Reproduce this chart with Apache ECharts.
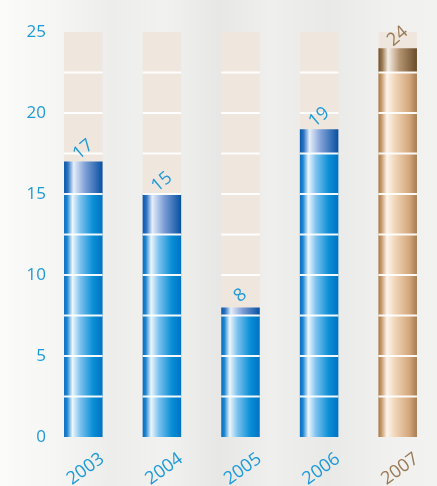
<!DOCTYPE html>
<html>
<head>
<meta charset="utf-8">
<script src="https://cdn.jsdelivr.net/npm/echarts@6/dist/echarts.min.js"></script>
<style>
html,body{margin:0;padding:0;}
#chart{width:437px;height:486px;}
</style>
</head>
<body>
<div id="chart"></div>
<script>
const categories = ['2003', '2004', '2005', '2006', '2007'];
const values = [17, 15, 8, 19, 24];
const highlighted = [false, false, false, false, true];
const yMin = 0, yMax = 25, yInterval = 5;
const segmentStep = 2.5;

const blue = '#1e9ad8';
const brown = '#9a7a56';
const G = echarts.graphic.LinearGradient;

function bodyFill(hl) {
  return hl
    ? new G(0, 0, 1, 0, [
        {offset: 0, color: '#a57a4c'}, {offset: 0.08, color: '#c89a6c'},
        {offset: 0.22, color: '#fdf5ec'}, {offset: 0.45, color: '#efd2b4'},
        {offset: 0.8, color: '#d4a77c'}, {offset: 1, color: '#a67c52'}])
    : new G(0, 0, 1, 0, [
        {offset: 0, color: '#0a6cc0'}, {offset: 0.08, color: '#1d86d0'},
        {offset: 0.22, color: '#eef6fd'}, {offset: 0.42, color: '#7cc2ee'},
        {offset: 0.75, color: '#0a8fd6'}, {offset: 1, color: '#0072c4'}]);
}
function capFill(hl) {
  return hl
    ? new G(0, 0, 1, 0, [
        {offset: 0, color: '#6f5230'}, {offset: 0.1, color: '#9c7a52'},
        {offset: 0.25, color: '#f6efe6'}, {offset: 0.55, color: '#b39370'},
        {offset: 1, color: '#6a4c2a'}])
    : new G(0, 0, 1, 0, [
        {offset: 0, color: '#0656a8'}, {offset: 0.1, color: '#2e74c2'},
        {offset: 0.25, color: '#e6eefa'}, {offset: 0.55, color: '#7e9fd6'},
        {offset: 1, color: '#0550a2'}]);
}

const chart = echarts.init(document.getElementById('chart'));

function renderItem(params, api) {
  const i = api.value(0);
  const v = api.value(1);
  const hl = highlighted[i];
  const base = api.coord([i, 0]);
  const cx = base[0], y0 = base[1];
  const yTop = api.coord([i, yMax])[1];
  const yv = api.coord([i, v])[1];
  const w = api.size([1, 0])[0] * 0.49;
  const x = cx - w / 2;
  const capBase = Math.floor((v - 1e-6) / segmentStep) * segmentStep;
  const yCap = api.coord([i, capBase])[1];
  const children = [];
  children.push({type: 'rect', shape: {x: x, y: yTop, width: w, height: y0 - yTop},
    style: {fill: '#efe6dd'}});
  children.push({type: 'rect', shape: {x: x, y: yCap, width: w, height: y0 - yCap},
    style: {fill: bodyFill(hl)}});
  children.push({type: 'rect', shape: {x: x, y: yv, width: w, height: yCap - yv},
    style: {fill: capFill(hl)}});
  for (let s = segmentStep; s < yMax - 1e-6; s += segmentStep) {
    const ys = api.coord([i, s])[1];
    children.push({type: 'rect', shape: {x: x, y: ys - 1, width: w, height: 2},
      style: {fill: '#ffffff', opacity: 0.95}});
  }
  const rotV = 40 * Math.PI / 180;
  const rotX = 36 * Math.PI / 180;
  children.push({type: 'text', x: cx, y: yv - 12, rotation: rotV,
    style: {text: String(v), fill: hl ? brown : blue, fontSize: 18,
      fontFamily: 'Open Sans', align: 'center', verticalAlign: 'middle'}});
  children.push({type: 'text', x: cx + 19, y: y0 + 20, rotation: rotX,
    style: {text: categories[i], fill: hl ? brown : blue, fontSize: 18,
      fontFamily: 'Open Sans', align: 'right', verticalAlign: 'middle'}});
  return {type: 'group', children: children};
}

chart.setOption({
  animation: false,
  backgroundColor: new G(0, 0, 1, 0, [
    {offset: 0, color: '#fbfbfa'}, {offset: 0.12, color: '#f6f6f4'},
    {offset: 0.25, color: '#ededeb'}, {offset: 0.38, color: '#f1f1ef'},
    {offset: 0.5, color: '#e7e7e5'}, {offset: 0.62, color: '#efefed'},
    {offset: 0.75, color: '#e9e9e7'}, {offset: 0.88, color: '#f0f0ee'},
    {offset: 1, color: '#f2f2f0'}]),
  grid: {left: 44, top: 32, width: 398, height: 405},
  xAxis: {
    type: 'category', data: categories,
    axisLine: {show: false}, axisTick: {show: false}, axisLabel: {show: false}
  },
  yAxis: {
    type: 'value', min: yMin, max: yMax, interval: yInterval,
    axisLine: {show: false}, axisTick: {show: false}, splitLine: {show: false},
    axisLabel: {color: blue, fontSize: 17, fontFamily: 'Open Sans', margin: -2}
  },
  series: [{
    type: 'custom',
    renderItem: renderItem,
    clip: false,
    data: values.map((v, i) => [i, v])
  }]
});
</script>
</body>
</html>
